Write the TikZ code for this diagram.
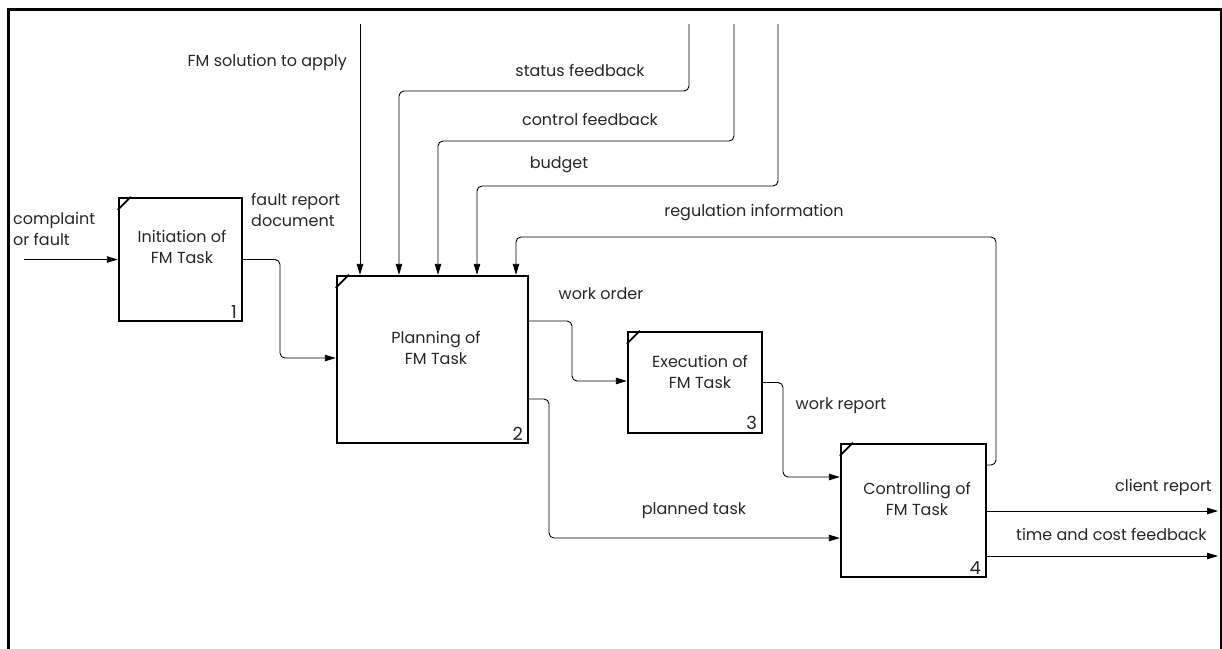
\documentclass[tikz,border=0pt]{standalone}
\usepackage{fontspec}
\setmainfont{Poppins}
\usetikzlibrary{arrows.meta}
\begin{document}
\begin{tikzpicture}[x=1pt,y=-1pt,
  every node/.style={font=\fontsize{16}{21.5}\selectfont, text=black!85, inner sep=0pt},
  box/.style={draw, line width=2.4pt, minimum width=#1, inner sep=0pt},
  flow/.style={line width=0.9pt, rounded corners=5pt, -{Triangle[length=11pt,width=6.5pt]}},
  corner/.style={line width=1.8pt},
  num/.style={anchor=south east, font=\fontsize{18}{20}\selectfont},
  lbl/.style={align=center},
]
\useasboundingbox (0,0) rectangle (1222,648);
\clip (0,0) rectangle (1222,648);
% outer frame
\draw[line width=3pt] (8,700) -- (8,9) -- (1221,9) -- (1221,700);

% activity boxes
\node[box=123pt, minimum height=123pt] (b1) at (180.5,259.5) {};
\node[box=191pt, minimum height=167pt] (b2) at (432.5,359.5) {};
\node[box=134pt, minimum height=101pt] (b3) at (695,382.5) {};
\node[box=145pt, minimum height=133pt] (b4) at (913.5,510.5) {};

\foreach \b in {b1,b2,b3,b4}
  \draw[corner] ([yshift=-13pt]\b.north west) -- ([xshift=13pt]\b.north west);

% box titles and numbers
\node[lbl] (t1) at (182,247) {Initiation of\\FM Task};
\node[lbl] (t2) at (436,348) {Planning of\\FM Task};
\node[lbl] (t3) at (700,372) {Execution of\\FM Task};
\node[lbl] (t4) at (917,499) {Controlling of\\FM Task};
\node[num] (n1) at ([xshift=-6pt,yshift=4pt]b1.south east) {1};
\node[num] (n2) at ([xshift=-6pt,yshift=4pt]b2.south east) {2};
\node[num] (n3) at ([xshift=-6pt,yshift=4pt]b3.south east) {3};
\node[num] (n4) at ([xshift=-6pt,yshift=4pt]b4.south east) {4};

% inputs and outputs
\coordinate (cf) at (24,259.5);
\draw[flow] (cf) -- (b1.west);

\coordinate (k1) at (280,358);
\draw[flow] (b1.east) -| (k1) -- (k1 -| b2.west);

\coordinate (s0) at (360,24);
\draw[flow] (s0) -- (s0 |- b2.north);

\coordinate (st0) at (689,24);
\coordinate (st1) at (399,91);
\draw[flow] (st0) |- (st1) -- (st1 |- b2.north);

\coordinate (ct0) at (734,24);
\coordinate (ct1) at (438,141);
\draw[flow] (ct0) |- (ct1) -- (ct1 |- b2.north);

\coordinate (bg0) at (778,24);
\coordinate (bg1) at (477,186);
\draw[flow] (bg0) |- (bg1) -- (bg1 |- b2.north);

\coordinate (r2) at (996,465);
\coordinate (r0) at (996,237);
\coordinate (r1) at (516,237);
\draw[flow] (r2 -| b4.east) -- (r2) -- (r0) -- (r1) -- (r1 |- b2.north);

\coordinate (w1) at (572,321);
\coordinate (w2) at (572,381);
\draw[flow] (w1 -| b2.east) -- (w1) -- (w2) -- (w2 -| b3.west);

\coordinate (p1) at (549,399);
\coordinate (p2) at (549,538);
\draw[flow] (p1 -| b2.east) -- (p1) -- (p2) -- (p2 -| b4.west);

\coordinate (wr1) at (783,382.5);
\coordinate (wr2) at (783,477);
\draw[flow] (b3.east) -- (wr1) -- (wr2) -- (wr2 -| b4.west);

\coordinate (c1) at (1218,511);
\draw[flow] (c1 -| b4.east) -- (c1);
\coordinate (c2) at (1218,556);
\draw[flow] (c2 -| b4.east) -- (c2);

% connector labels
\node[anchor=west, align=left] (l1) at (13,229) {complaint\\or fault};
\node[anchor=west, align=left] (l2) at (251,210) {fault report\\document};
\node[anchor=east] (l3) at (347,62) {FM solution to apply};
\node (l4) at (580,70) {status feedback};
\node (l5) at (590,119) {control feedback};
\node (l6) at (559,165) {budget};
\node (l7) at (754,213) {regulation information};
\node (l8) at (601,294) {work order};
\node (l9) at (841,406) {work report};
\node (l10) at (694,511) {planned task};
\node[anchor=east] (l11) at (1212,487) {client report};
\node[anchor=west] (l12) at (1016,534) {time and cost feedback};
\end{tikzpicture}
\end{document}
